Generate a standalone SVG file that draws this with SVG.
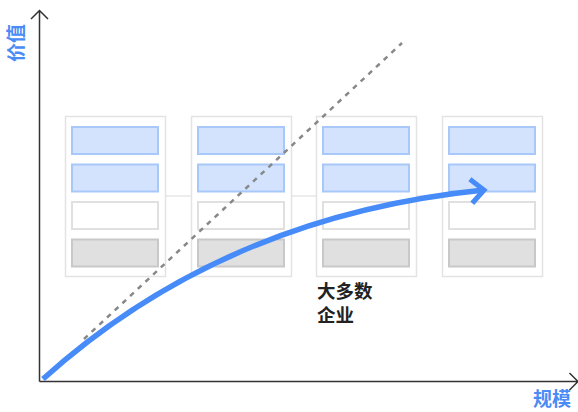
<svg xmlns="http://www.w3.org/2000/svg" width="578" height="412" viewBox="0 0 578 412">
<defs>
<style>
.panel{fill:#fff;stroke:#e3e3e3;stroke-width:1.5}
.bb{fill:#d3e3fd;stroke:#a8c8fa;stroke-width:2}
.wb{fill:#fff;stroke:#e0e0e0;stroke-width:2}
.gb{fill:#e0e0e0;stroke:#c8c8c8;stroke-width:2}
.axis{fill:none;stroke:#333;stroke-width:1.5}
.lbl{font-family:"Noto Sans CJK SC",sans-serif;font-size:19px;font-weight:bold;fill:#4b8bf5}
.note{font-family:"Noto Sans CJK SC",sans-serif;font-size:18.5px;font-weight:bold;fill:#222}
</style>
<marker id="blueHead" viewBox="0 0 20 30" refX="15" refY="15" markerWidth="20" markerHeight="30" markerUnits="userSpaceOnUse" orient="auto">
<path d="M2,3 L15,15 L2,27" fill="none" stroke="#468bf7" stroke-width="5"/>
</marker>
</defs>
<rect width="578" height="412" fill="#fff"/>
<line x1="165" y1="196" x2="442" y2="196" stroke="#e6e6e6" stroke-width="1.5"/>
<g id="panel1">
<rect class="panel" x="65.5" y="116.5" width="100" height="160"/>
<rect class="bb" x="72" y="127" width="86" height="27"/>
<rect class="bb" x="72" y="164.5" width="86" height="27"/>
<rect class="wb" x="72" y="202" width="86" height="27"/>
<rect class="gb" x="72" y="239.5" width="86" height="27"/>
</g>
<g id="panel2">
<rect class="panel" x="191.5" y="116.5" width="100" height="160"/>
<rect class="bb" x="198" y="127" width="86" height="27"/>
<rect class="bb" x="198" y="164.5" width="86" height="27"/>
<rect class="wb" x="198" y="202" width="86" height="27"/>
<rect class="gb" x="198" y="239.5" width="86" height="27"/>
</g>
<g id="panel3">
<rect class="panel" x="316.5" y="116.5" width="100" height="160"/>
<rect class="bb" x="323" y="127" width="86" height="27"/>
<rect class="bb" x="323" y="164.5" width="86" height="27"/>
<rect class="wb" x="323" y="202" width="86" height="27"/>
<rect class="gb" x="323" y="239.5" width="86" height="27"/>
</g>
<g id="panel4">
<rect class="panel" x="442.5" y="116.5" width="100" height="160"/>
<rect class="bb" x="449" y="127" width="86" height="27"/>
<rect class="bb" x="449" y="164.5" width="86" height="27"/>
<rect class="wb" x="449" y="202" width="86" height="27"/>
<rect class="gb" x="449" y="239.5" width="86" height="27"/>
</g>
<g id="axes">
<path class="axis" d="M39.5,381.5 L39.5,10.5 M31,19 L39.5,10.5 L48,19"/>
<path class="axis" d="M39.5,381.5 L577,381.5 M569.5,373 L578,381.5 L569.5,390"/>
<text class="lbl" transform="translate(23,43) rotate(-90)" text-anchor="middle">价值</text>
<text class="lbl" x="552" y="406" text-anchor="middle">规模</text>
</g>
<g id="connectors">
<line x1="84" y1="339" x2="402" y2="43" stroke="#888" stroke-width="2.5" stroke-dasharray="5,5.5"/>
<path d="M43,379 Q224,216 484,190" fill="none" stroke="#468bf7" stroke-width="5.5" marker-end="url(#blueHead)"/>
</g>
<g id="note">
<text class="note" x="317" y="298">大多数</text>
<text class="note" x="317" y="321.5">企业</text>
</g>
</svg>
